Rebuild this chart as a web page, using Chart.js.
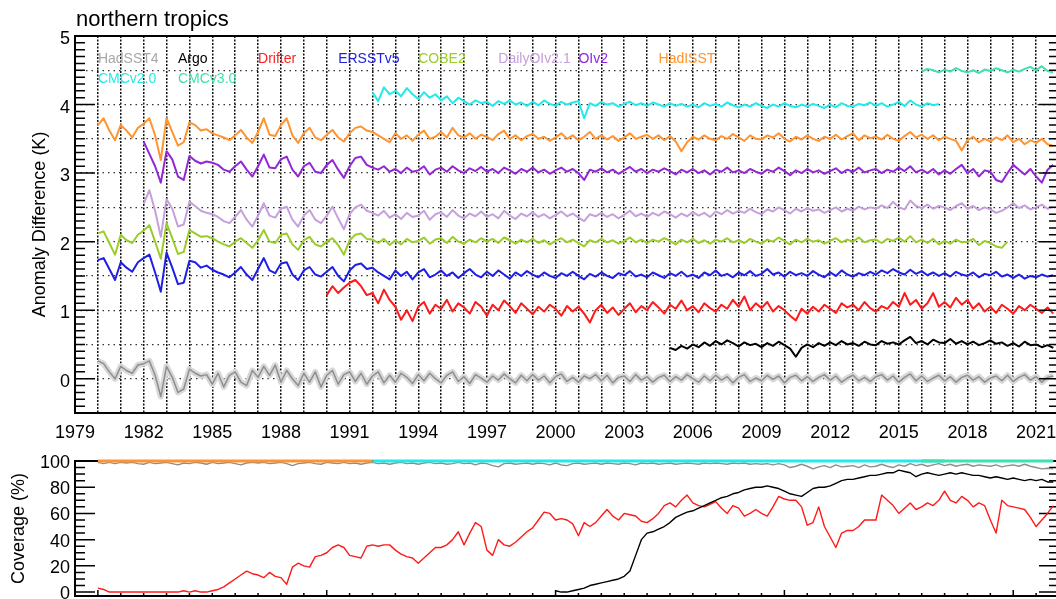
<!DOCTYPE html>
<html><head><meta charset="utf-8">
<script src="https://cdn.jsdelivr.net/npm/chart.js@4.4.1/dist/chart.umd.min.js"></script>
<style>
html,body{margin:0;padding:0;overflow:hidden;background:#fff;width:1056px;height:599px;}
#wrap{position:relative;width:1056px;height:599px;overflow:hidden;background:#fff;}
#c1{position:absolute;left:0;top:0;}
#c2{position:absolute;left:0;top:440px;}
</style></head><body>
<div id="wrap"><canvas id="c1" width="1080" height="440"></canvas><canvas id="c2" width="1080" height="159"></canvas></div>
<script>
// ---------------- DATA ----------------
const chartTitle = 'northern tropics';
const topAxisTitle = 'Anomaly Difference (K)';
const bottomAxisTitle = 'Coverage (%)';
const xMin = 1979, xMax = 2022;
const topYMin = -0.5, topYMax = 5;
const botYMin = -3, botYMax = 100;
const quarter = 0.25;

const seriesNames = ['HadSST4','Argo','Drifter','ERSSTv5','COBE2','DailyOIv2.1','OIv2','HadISST','CMCv2.0','CMCv3.0'];

// anomaly differences (offset for display), quarterly values
const hadsst4Start = 1980;
const hadsst4 = [
 0.26,0.22,0.10,0.00, 0.18,0.12,0.08,0.20, 0.22,0.26,0.05,-0.26, 0.18,0.02,-0.20,-0.15,
 0.14,0.08,0.04,0.06, -0.08,0.08,-0.12,0.05, 0.10,-0.05,-0.10,0.12, 0.02,0.18,0.05,0.20,
 -0.05,0.12,0.00,-0.10, 0.08,-0.05,0.10,-0.12, 0.05,0.12,-0.08,0.06, 0.10,-0.04,0.08,-0.08,
 0.04,0.10,-0.06,0.05, -0.05,0.08,0.02,-0.07, 0.06,-0.03,0.08,0.00, -0.06,0.05,0.10,-0.04,
 0.03,-0.07,0.06,0.01, -0.05,0.04,-0.02,0.07, 0.00,-0.06,0.05,-0.03, 0.06,-0.02,0.04,-0.06,
 0.03,0.07,-0.04,0.02, -0.05,0.04,0.00,0.06, -0.03,0.05,-0.06,0.02, 0.04,-0.04,0.06,-0.02,
 0.03,-0.05,0.02,0.05, -0.04,0.03,-0.02,0.06, 0.00,-0.05,0.04,-0.03, 0.05,-0.02,0.03,-0.06,
 0.02,0.06,-0.04,0.01, -0.03,0.05,-0.01,0.04, -0.06,0.02,0.05,-0.03, 0.03,-0.04,0.02,0.06,
 -0.02,0.04,-0.05,0.01, 0.05,-0.03,0.02,-0.04, 0.03,0.06,-0.02,0.04, -0.05,0.02,0.07,-0.03,
 0.04,-0.04,0.01,0.05, -0.03,0.03,-0.05,0.02, 0.05,-0.02,0.03,-0.05, 0.01,0.04,-0.03,0.05,
 -0.04,0.02,0.06,-0.02, 0.03,-0.05,0.02,0.04
];
const argoStart = 2005;
const argo = [
 0.45,0.42,0.48,0.44, 0.50,0.46,0.53,0.48, 0.55,0.50,0.56,0.52, 0.47,0.53,0.49,0.51,
 0.46,0.52,0.48,0.54, 0.49,0.44,0.32,0.45, 0.50,0.46,0.52,0.48, 0.53,0.49,0.55,0.50,
 0.52,0.48,0.54,0.50, 0.49,0.55,0.51,0.53, 0.50,0.56,0.61,0.52, 0.55,0.50,0.57,0.53,
 0.52,0.58,0.51,0.55, 0.50,0.54,0.49,0.52, 0.56,0.51,0.53,0.48, 0.52,0.47,0.54,0.49,
 0.50,0.46,0.49,0.45
];
const drifterStart = 1990;
const drifter = [
 1.22,1.35,1.25,1.33, 1.40,1.44,1.35,1.22, 1.25,1.10,1.30,1.15, 1.05,0.86,1.00,0.84,
 1.05,1.12,0.95,1.08, 1.02,1.15,0.98,1.10, 1.04,0.95,1.12,1.05, 0.92,1.08,1.00,1.14,
 1.06,0.96,1.10,1.02, 0.94,1.05,0.98,1.08, 1.02,0.92,1.06,0.98, 1.05,0.95,0.82,1.00,
 1.08,0.96,1.04,0.93, 1.02,1.10,0.97,1.06, 1.00,1.12,1.04,0.95, 1.08,1.02,1.14,1.00,
 1.06,0.97,1.10,1.03, 0.98,1.08,1.02,1.15, 1.05,1.20,1.00,1.10, 1.03,1.12,0.98,1.06,
 1.00,0.92,0.85,1.02, 0.95,1.05,0.98,1.08, 1.02,0.96,1.10,1.04, 1.08,1.00,1.12,1.03,
 0.98,1.06,1.02,1.12, 1.05,1.25,1.08,1.15, 1.02,1.10,1.25,1.05, 1.12,1.04,1.18,1.08,
 1.15,1.02,1.10,0.98, 1.05,0.96,1.08,1.02, 0.95,1.06,1.00,1.08, 1.02,0.96,1.04,0.95
];
const ersstStart = 1980;
const ersst = [
 1.73,1.76,1.60,1.44, 1.70,1.62,1.56,1.70, 1.76,1.81,1.55,1.27, 1.84,1.62,1.38,1.40,
 1.72,1.70,1.62,1.65, 1.59,1.55,1.52,1.48, 1.55,1.63,1.52,1.44, 1.60,1.76,1.58,1.54,
 1.68,1.70,1.52,1.44, 1.58,1.63,1.52,1.49, 1.56,1.63,1.50,1.42, 1.58,1.66,1.68,1.60,
 1.62,1.55,1.50,1.45, 1.58,1.50,1.56,1.45, 1.55,1.60,1.48,1.52, 1.58,1.50,1.55,1.47,
 1.54,1.60,1.52,1.48, 1.56,1.50,1.58,1.52, 1.46,1.55,1.50,1.57, 1.52,1.48,1.55,1.50,
 1.47,1.54,1.50,1.56, 1.50,1.45,1.53,1.49, 1.55,1.50,1.47,1.54, 1.51,1.57,1.49,1.52,
 1.48,1.55,1.51,1.47, 1.54,1.50,1.56,1.49, 1.52,1.47,1.55,1.51, 1.58,1.50,1.53,1.48,
 1.55,1.51,1.57,1.50, 1.53,1.60,1.52,1.55, 1.49,1.56,1.51,1.54, 1.50,1.57,1.52,1.48,
 1.55,1.50,1.58,1.52, 1.49,1.54,1.51,1.56, 1.52,1.58,1.54,1.60, 1.55,1.52,1.59,1.53,
 1.57,1.51,1.55,1.50, 1.54,1.49,1.56,1.52, 1.50,1.55,1.48,1.53, 1.51,1.56,1.49,1.52,
 1.47,1.52,1.46,1.50, 1.48,1.52,1.49,1.51
];
const cobe2Start = 1980;
const cobe2 = [
 2.12,2.15,1.98,1.81, 2.10,2.02,1.98,2.10, 2.16,2.24,2.00,1.75, 2.27,2.05,1.82,1.85,
 2.17,2.12,2.07,2.08, 2.05,2.00,1.96,1.93, 2.00,2.05,1.98,1.91, 2.02,2.17,2.00,1.98,
 2.10,2.12,1.96,1.88, 2.02,2.07,1.96,1.93, 2.00,2.05,1.95,1.81, 2.02,2.10,2.12,2.04,
 2.03,1.98,2.04,1.95, 2.02,1.96,2.04,1.99, 2.01,2.06,1.97,2.03, 2.05,1.98,2.07,2.00,
 1.97,2.03,1.99,2.05, 2.00,2.04,1.98,2.06, 2.02,1.97,2.03,1.99, 2.04,1.98,2.02,1.96,
 2.01,2.05,1.99,2.03, 1.98,1.93,2.02,1.99, 2.04,1.99,2.02,1.97, 2.01,2.06,1.99,2.03,
 1.98,2.03,2.00,2.05, 2.01,1.96,2.03,1.99, 2.04,1.98,2.02,1.97, 2.03,2.00,2.05,1.99,
 2.02,1.98,2.04,2.00, 1.97,2.03,2.00,2.06, 2.01,1.96,2.03,1.99, 2.04,2.00,2.02,1.97,
 2.01,2.05,1.99,2.03, 2.00,2.06,1.99,2.02, 2.03,1.98,2.04,2.01, 2.06,2.00,2.08,1.99,
 2.03,1.98,2.04,1.96, 2.01,1.97,2.03,1.99, 2.00,2.04,1.95,2.01, 1.98,1.93,1.91,2.00
];
const dailyOIStart = 1982;
const dailyOI = [
 2.55,2.75,2.45,2.07, 2.62,2.48,2.22,2.25, 2.58,2.52,2.45,2.42, 2.40,2.36,2.30,2.27,
 2.36,2.46,2.32,2.22, 2.38,2.56,2.38,2.35, 2.48,2.51,2.32,2.22, 2.38,2.46,2.32,2.27,
 2.38,2.51,2.34,2.18, 2.40,2.50,2.54,2.45, 2.42,2.38,2.45,2.35, 2.40,2.33,2.42,2.36,
 2.38,2.45,2.32,2.40, 2.43,2.36,2.46,2.38, 2.34,2.41,2.37,2.44, 2.36,2.40,2.34,2.45,
 2.38,2.33,2.41,2.37, 2.43,2.36,2.40,2.34, 2.39,2.44,2.37,2.41, 2.35,2.30,2.40,2.37,
 2.42,2.36,2.40,2.34, 2.39,2.45,2.37,2.41, 2.36,2.42,2.38,2.44, 2.40,2.35,2.41,2.37,
 2.43,2.38,2.42,2.36, 2.44,2.40,2.46,2.41, 2.45,2.42,2.48,2.43, 2.40,2.47,2.44,2.50,
 2.46,2.41,2.48,2.44, 2.49,2.45,2.47,2.42, 2.46,2.50,2.44,2.48, 2.45,2.51,2.47,2.50,
 2.48,2.53,2.49,2.58, 2.50,2.47,2.60,2.52, 2.49,2.54,2.48,2.52, 2.50,2.46,2.52,2.56,
 2.48,2.52,2.46,2.50, 2.47,2.42,2.45,2.50, 2.56,2.49,2.53,2.47, 2.50,2.54,2.48,2.50
];
const oiv2Start = 1982;
const oiv2 = [
 3.46,3.28,3.10,2.86, 3.32,3.20,2.95,2.90, 3.25,3.18,3.14,3.17, 3.15,3.12,3.05,3.02,
 3.10,3.17,3.05,2.95, 3.10,3.27,3.08,3.07, 3.20,3.24,3.05,2.95, 3.10,3.15,3.02,3.00,
 3.12,3.19,3.05,2.93, 3.10,3.22,3.24,3.12, 3.08,3.05,3.10,3.02, 3.06,3.00,3.08,3.02,
 3.04,3.10,2.98,3.05, 3.08,3.02,3.10,3.04, 3.00,3.07,3.03,3.09, 3.02,3.06,3.00,3.08,
 3.04,2.99,3.06,3.02, 3.08,3.01,3.05,2.99, 3.04,3.08,3.02,3.06, 3.00,2.90,3.05,3.02,
 3.07,3.01,3.05,2.99, 3.04,3.09,3.02,3.06, 3.00,3.05,3.02,3.07, 3.03,2.98,3.05,3.01,
 3.06,3.00,3.04,2.98, 3.05,3.02,3.08,3.01, 3.04,3.00,3.06,3.02, 2.99,3.05,3.02,3.08,
 3.03,2.97,3.04,3.00, 3.06,3.01,3.04,2.99, 3.03,3.07,3.00,3.05, 3.02,3.08,3.01,3.04,
 3.06,3.00,3.05,3.02, 3.08,3.03,3.10,3.01, 3.05,3.00,3.06,2.98, 3.04,2.99,3.06,3.12,
 3.00,3.06,2.95,3.04, 3.02,2.90,2.87,3.00, 3.12,3.05,2.98,3.06, 2.95,2.86,3.05,3.12
];
const hadisstStart = 1980;
const hadisst = [
 3.70,3.80,3.62,3.48, 3.70,3.62,3.52,3.66, 3.72,3.80,3.55,3.19, 3.80,3.60,3.40,3.45,
 3.74,3.70,3.62,3.64, 3.58,3.55,3.52,3.48, 3.55,3.63,3.52,3.44, 3.60,3.80,3.56,3.54,
 3.70,3.80,3.55,3.44, 3.58,3.66,3.52,3.48, 3.56,3.63,3.52,3.46, 3.58,3.66,3.68,3.62,
 3.60,3.55,3.50,3.45, 3.58,3.50,3.55,3.47, 3.56,3.62,3.50,3.53, 3.60,3.52,3.66,3.55,
 3.52,3.58,3.50,3.56, 3.53,3.48,3.57,3.62, 3.50,3.55,3.48,3.54, 3.57,3.50,3.53,3.47,
 3.52,3.58,3.50,3.55, 3.48,3.53,3.60,3.50, 3.55,3.49,3.54,3.47, 3.52,3.58,3.50,3.53,
 3.56,3.50,3.55,3.48, 3.54,3.46,3.32,3.45, 3.53,3.49,3.55,3.50, 3.48,3.54,3.50,3.57,
 3.52,3.47,3.55,3.50, 3.49,3.55,3.52,3.58, 3.50,3.46,3.53,3.49, 3.55,3.50,3.47,3.53,
 3.50,3.56,3.49,3.54, 3.58,3.48,3.55,3.51, 3.53,3.49,3.56,3.50, 3.47,3.54,3.60,3.52,
 3.56,3.50,3.55,3.48, 3.53,3.50,3.47,3.33, 3.48,3.53,3.45,3.50, 3.46,3.52,3.48,3.55,
 3.45,3.50,3.42,3.48, 3.44,3.50,3.42,3.40
];
const cmc2Start = 1992;
const cmc2 = [
 4.18,4.05,4.25,4.15, 4.20,4.12,4.24,4.15, 4.08,4.18,4.10,4.15, 4.06,4.12,4.02,4.10,
 4.05,4.00,4.06,4.02, 4.04,3.98,4.05,4.01, 4.06,4.00,4.03,3.98, 4.04,3.99,4.06,4.01,
 3.98,4.04,4.00,4.03, 4.05,3.80,4.02,3.98, 4.04,4.00,4.02,3.97, 4.01,4.04,3.99,4.02,
 3.98,4.03,4.00,3.97, 4.02,3.98,4.01,3.97, 4.00,3.96,4.02,3.98, 4.01,3.97,4.03,3.99,
 3.96,4.00,3.97,4.02, 3.98,3.95,4.00,3.97, 4.02,3.98,3.96,4.00, 3.97,4.01,3.98,3.95,
 4.00,3.96,4.02,3.98, 3.97,4.01,3.99,4.03, 3.98,4.02,3.97,4.00, 4.04,3.98,4.06,4.00,
 3.97,4.02,3.99,4.01
];
const cmc3Start = 2016;
const cmc3 = [
 4.48,4.52,4.50,4.47, 4.51,4.48,4.53,4.49, 4.47,4.50,4.46,4.51, 4.49,4.53,4.50,4.47,
 4.51,4.48,4.52,4.55, 4.50,4.56,4.49,4.47
];

// coverage (%)
const covHadISSTStart = 1980, covHadISSTStep = 1;
const covHadISST = [100,100,100,100,100,100,100,100,100,100,100,100,100];
const covCMC2Start = 1992, covCMC2Step = 1;
const covCMC2 = [100,100,100,100,100,100,100,100,100,100,100,100,100,100,100,100,100,100,100,100,100,100,100,100,100,100];
const covCMC3Start = 2016, covCMC3Step = 0.25;
const covCMC3 = [100,100,100,100,100,100,100,100,100,100,100,100,100,100,100,100,100,100,100,100,100,100,100,100];
const covHadSST4Start = 1980;
const covHadSST4 = [
 99,98,99,98, 99,98.5,99,98, 97.5,99,98,98.5, 99,98,97,98.5, 98,99,98.5,97.5, 99,98,98.5,99,
 98,97,98.5,99, 98.5,99,98,98.5, 99,98,96.5,98, 98.5,99,98,97.5, 99,98.5,98,99, 98,98.5,97.5,98.5,
 99,98,98.5,97.5, 98.5,99,98,98.5, 97.5,98.5,99,98, 98.5,97.5,98,99, 98,98.5,97,98.5, 98,96.5,95.5,98,
 98.5,97.5,98,98.5, 97.5,98.5,98,97, 98.5,97,96.5,98, 98.5,97.5,98,98.5, 97.5,98.5,98,97.5, 98.5,98,97,98.5,
 98,98.5,97.5,98, 98.5,97.5,98,98.5, 98,97.5,98.5,98, 98.5,98,97.5,98.5, 98,98.5,97.5,98, 97.5,98,97,98,
 97,95,96,97.5, 96,94,95.5,96.5, 95,97,95.5,96, 96.5,95,97,95.5, 96,97.5,96,95, 97,96,98,96.5,
 97.5,96,97,98, 96.5,97.5,96,97, 97.5,96,97,96.5, 96,97,95.5,96.5, 97,96,97.5,96, 95,94,94.5,94
];
const covArgoStart = 2000;
const covArgo = [
 1,0,0,1, 2,3,5,6, 7,8,9,10, 12,16,28,40, 45,46,48,50, 53,57,59,61, 62,64,66,68, 70,72,73,75,
 76,78,79,80, 80,81,80,79, 77,75,74,73, 76,79,80,80, 81,83,85,86, 86,87,88,89, 89,90,91,91,
 93,92,91,88, 90,91,90,89, 90,91,90,91, 90,89,89,88, 87,88,87,86, 87,86,85,86, 85,86,84,84
];
const covDrifterStart = 1980;
const covDrifter = [
 3,2,0,0, 0,0,0,0, 0,0,0,0, 0,0,0,1, 0,1,0,0, 1,2,4,7, 10,13,16,14, 13,11,15,12,
 11,6,19,22, 20,19,27,28, 30,34,36,34, 28,27,26,35, 36,35,36,36, 32,29,27,26, 22,26,30,34,
 34,36,40,46, 36,45,53,50, 32,28,40,36, 35,38,42,46, 49,55,61,60, 55,56,55,52, 43,53,50,53,
 58,63,58,55, 60,59,58,54, 53,56,60,66, 68,65,70,74, 68,66,65,67, 69,64,60,66, 64,58,60,63,
 60,58,65,73, 71,70,70,65, 51,53,65,50, 42,34,45,47, 47,50,55,55, 55,74,70,66, 60,64,68,63,
 65,68,66,70, 77,70,68,73, 70,65,68,66, 55,45,70,66, 65,64,63,57, 50,55,60,66
];

// ---------------- STYLE ----------------
const FONT = "'Liberation Sans', Arial, Helvetica, sans-serif";
const colors = {
  HadSST4: '#8e8e8e', HadSST4band: '#d8d8d8', Argo: '#000000', Drifter: '#ff1a1a', ERSSTv5: '#1e1ee6',
  COBE2: '#9acd2a', DailyOI: '#c6a0dc', OIv2: '#9326d6', HadISST: '#ff9430', CMC2: '#22eaea', CMC3: '#3fe0b2'
};
const legendColors = ['#a8a8a8','#000000','#ff2020','#2020e0','#9acd2a','#c6a0dc','#9326d6','#ff9430','#22eaea','#3fe0b2'];

function pts(start, step, vals){ return vals.map((v,i)=>({x: start + i*step, y: v})); }
function ds(label, data, color, width, noClip){
  const d = {label, data, borderColor: color, backgroundColor: color, borderWidth: width,
    pointRadius: 0, pointHoverRadius: 0, tension: 0, fill: false, borderJoinStyle: 'round', borderCapStyle: 'butt'};
  if (noClip) d.clip = false;
  return d;
}
// first listed = drawn first (furthest back)
function stackOrder(list){ list.forEach((d,i)=>{ d.order = list.length - i; }); return list; }

function decor(o){
  function frame(chart){
    const {ctx, chartArea: a, scales} = chart;
    const ys = scales.y, xs = scales.x;
    ctx.save();
    ctx.strokeStyle = '#000';
    ctx.lineWidth = 1.5;
    ctx.beginPath();
    const n = Math.round((o.tMax - o.tMin)/o.minor);
    for (let k=0;k<=n;k++){
      const v = o.tMin + k*o.minor;
      const r = v/o.major;
      const major = Math.abs(r - Math.round(r)) < 1e-6;
      const len = major ? 20 : 10;
      const py = ys.getPixelForValue(v);
      ctx.moveTo(a.left, py); ctx.lineTo(a.left+len, py);
      ctx.moveTo(a.right-len, py); ctx.lineTo(a.right, py);
    }
    ctx.stroke();
    if (o.xTicks){
      ctx.beginPath();
      for (let yv = xMin+1; yv < xMax; yv++){
        const px = xs.getPixelForValue(yv);
        const len = (yv % 10 === 0) ? 6 : 3;
        ctx.moveTo(px, a.bottom); ctx.lineTo(px, a.bottom-len);
      }
      ctx.stroke();
    }
    ctx.lineWidth = 2;
    ctx.strokeRect(a.left, a.top, a.right-a.left, a.bottom-a.top);
    ctx.restore();
  }
  return {
    id: 'decor',
    beforeDatasetsDraw(chart){ if (o.frameFirst) frame(chart); },
    afterDraw(chart){
      if (!o.frameFirst) frame(chart);
      const {ctx, chartArea: a, scales} = chart;
      const ys = scales.y, xs = scales.x;
      ctx.save();
      ctx.fillStyle = '#000';
      if (o.title){
        ctx.font = '22px ' + FONT;
        ctx.textAlign = 'left'; ctx.textBaseline = 'alphabetic';
        ctx.fillText(o.title, 76, 26);
      }
      ctx.font = '18px ' + FONT;
      ctx.textAlign = 'center'; ctx.textBaseline = 'middle';
      ctx.save();
      ctx.translate(o.axisTitleX, (a.top + a.bottom)/2);
      ctx.rotate(-Math.PI/2);
      ctx.fillText(o.axisTitle, 0, 0);
      ctx.restore();
      if (o.legend){
        ctx.font = '14px ' + FONT;
        ctx.textAlign = 'left'; ctx.textBaseline = 'alphabetic';
        seriesNames.forEach((name, i) => {
          const row = i < 8 ? 0 : 1;
          const col = i < 8 ? i : i - 8;
          const px = xs.getPixelForValue(1980 + 3.5*col);
          const py = ys.getPixelForValue(row === 0 ? 4.6 : 4.32);
          ctx.fillStyle = legendColors[i];
          ctx.fillText(name, px, py);
        });
      }
      ctx.restore();
    }
  };
}

const topDatasets = stackOrder([
  ds('HadSST4 band', pts(hadsst4Start, quarter, hadsst4), colors.HadSST4band, 6),
  ds('HadSST4', pts(hadsst4Start, quarter, hadsst4), colors.HadSST4, 1.5),
  ds('Argo', pts(argoStart, quarter, argo), colors.Argo, 2),
  ds('Drifter', pts(drifterStart, quarter, drifter), colors.Drifter, 2),
  ds('ERSSTv5', pts(ersstStart, quarter, ersst), colors.ERSSTv5, 2),
  ds('COBE2', pts(cobe2Start, quarter, cobe2), colors.COBE2, 2),
  ds('DailyOIv2.1', pts(dailyOIStart, quarter, dailyOI), colors.DailyOI, 2),
  ds('OIv2', pts(oiv2Start, quarter, oiv2), colors.OIv2, 2),
  ds('HadISST', pts(hadisstStart, quarter, hadisst), colors.HadISST, 2),
  ds('CMCv2.0', pts(cmc2Start, quarter, cmc2), colors.CMC2, 2),
  ds('CMCv3.0', pts(cmc3Start, quarter, cmc3), colors.CMC3, 2)
]);

new Chart(document.getElementById('c1'), {
  type: 'line',
  data: { datasets: topDatasets },
  options: {
    responsive: false, animation: false, devicePixelRatio: 1,
    layout: { padding: { left: 0, top: 36, right: 21, bottom: 0 } },
    plugins: { legend: { display: false }, tooltip: { enabled: false }, title: { display: false } },
    scales: {
      x: {
        type: 'linear', min: xMin, max: xMax,
        afterFit: s => { s.height = 27; },
        border: { display: false, dash: [2, 1.5] },
        grid: { drawTicks: false, lineWidth: 1.5,
          color: c => (c.tick && (c.tick.value === xMin || c.tick.value === xMax)) ? 'rgba(0,0,0,0)' : '#111' },
        ticks: { stepSize: 1, autoSkip: false, maxRotation: 0, minRotation: 0, padding: 9,
          color: '#000', font: { size: 18, family: FONT },
          callback: v => ((v - xMin) % 3 === 0 && v < xMax) ? String(v) : '' }
      },
      y: {
        type: 'linear', min: topYMin, max: topYMax,
        afterFit: s => { s.width = 75; s.paddingTop = 0; s.paddingBottom = 0; },
        border: { display: false, dash: [1.5, 4] },
        grid: { drawTicks: false, lineWidth: 1.2,
          color: c => (c.tick && (c.tick.value === topYMin || c.tick.value === topYMax)) ? 'rgba(0,0,0,0)' : '#333' },
        ticks: { stepSize: 0.5, padding: 5, labelOffset: 3, color: '#000', font: { size: 18, family: FONT },
          callback: v => Number.isInteger(v) ? String(v) : '' }
      }
    }
  },
  plugins: [decor({ tMin: topYMin, tMax: topYMax, minor: 0.1, major: 1, title: chartTitle,
    axisTitle: topAxisTitle, axisTitleX: 40, legend: true, xTicks: false, frameFirst: false })]
});

const botDatasets = stackOrder([
  ds('Drifter', pts(covDrifterStart, quarter, covDrifter), colors.Drifter, 1.4),
  ds('Argo', pts(covArgoStart, quarter, covArgo), colors.Argo, 1.4),
  ds('HadSST4', pts(covHadSST4Start, quarter, covHadSST4), colors.HadSST4, 1.4),
  ds('HadISST', pts(covHadISSTStart, covHadISSTStep, covHadISST), colors.HadISST, 3, true),
  ds('CMCv2.0', pts(covCMC2Start, covCMC2Step, covCMC2), colors.CMC2, 3, true),
  ds('CMCv3.0', pts(covCMC3Start, covCMC3Step, covCMC3), colors.CMC3, 3, true)
]);

new Chart(document.getElementById('c2'), {
  type: 'line',
  data: { datasets: botDatasets },
  options: {
    responsive: false, animation: false, devicePixelRatio: 1,
    layout: { padding: { left: 0, top: 21, right: 21, bottom: 3 } },
    plugins: { legend: { display: false }, tooltip: { enabled: false }, title: { display: false } },
    scales: {
      x: { type: 'linear', min: xMin, max: xMax, display: false },
      y: {
        type: 'linear', min: botYMin, max: botYMax,
        afterFit: s => { s.width = 75; s.paddingTop = 0; s.paddingBottom = 0; },
        border: { display: false },
        grid: { display: false, drawTicks: false },
        ticks: { stepSize: 20, includeBounds: false, padding: 5, labelOffset: 2, color: '#000', font: { size: 18, family: FONT },
          callback: v => (v >= 0 && v % 20 === 0) ? String(v) : '' }
      }
    }
  },
  plugins: [decor({ tMin: 0, tMax: 100, minor: 5, major: 20, title: null,
    axisTitle: bottomAxisTitle, axisTitleX: 19, legend: false, xTicks: true, frameFirst: true })]
});
</script>
</body></html>
